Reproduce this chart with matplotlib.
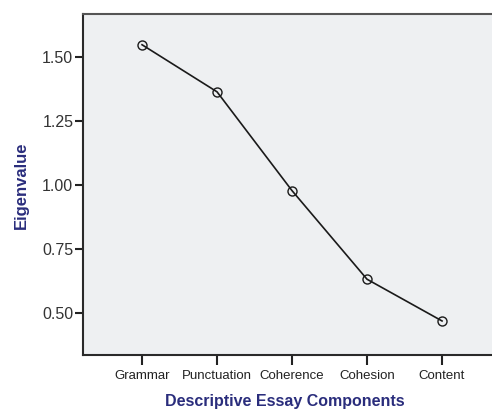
import matplotlib
matplotlib.use("Agg")
import matplotlib.pyplot as plt

components = ["Grammar", "Punctuation", "Coherence", "Cohesion", "Content"]
eigenvalues = [1.548, 1.364, 0.978, 0.632, 0.469]
y_ticks = [0.50, 0.75, 1.00, 1.25, 1.50]

plt.rcParams['font.family'] = ['Liberation Sans', 'DejaVu Sans']

fig = plt.figure(figsize=(4.92, 4.12), dpi=100)
# right edge of the frame runs past the figure, as in the source image
ax = fig.add_axes([0.1687, 0.1383, 0.87, 0.8277])
ax.set_facecolor('#eef0f2')

x = list(range(1, len(components) + 1))
ax.plot(x, eigenvalues, color='#1a1a1a', linewidth=1.2,
        marker='o', markersize=6.5, markerfacecolor='none',
        markeredgecolor='#1a1a1a', markeredgewidth=1.0)

ax.set_xlim(0.213, 5.92)
ax.set_ylim(0.336, 1.668)
ax.set_xticks(x)
ax.set_xticklabels(components, fontsize=9.5, color='#222222')
ax.set_yticks(y_ticks)
ax.set_yticklabels(["%.2f" % v for v in y_ticks], fontsize=11.5, color='#333333')

ax.tick_params(axis='y', length=6, width=1.5, pad=1, color='#222222')
ax.tick_params(axis='x', length=7, width=1.5, pad=4, color='#222222')

for side in ['left', 'bottom', 'top', 'right']:
    ax.spines[side].set_linewidth(1.5)
    ax.spines[side].set_color('#2a2a2a')
ax.spines['top'].set_color('#555555')

fig.text(0.043, 0.551, "Eigenvalue", rotation=90, ha='center', va='center',
         fontsize=12, fontweight='bold', color='#2a2d7c')
fig.text(0.579, 0.026, "Descriptive Essay Components", ha='center', va='center',
         fontsize=11.5, fontweight='bold', color='#2a2d7c')

fig.savefig("out.png", dpi=100, facecolor='white')
